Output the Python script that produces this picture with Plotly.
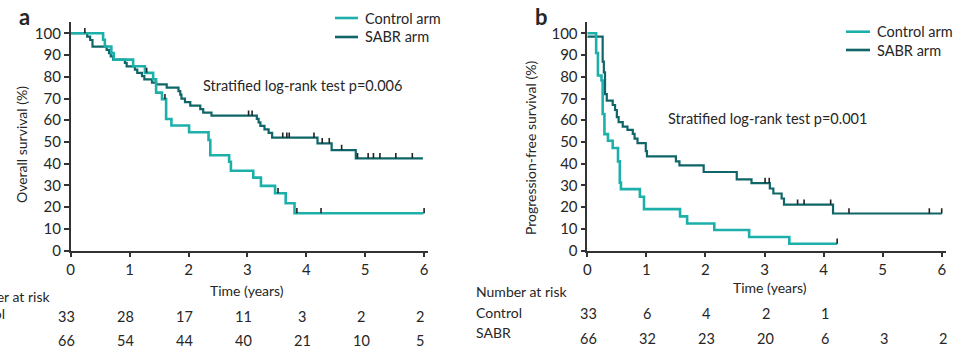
import plotly.graph_objects as go

# ---------------- data ----------------
years = [0, 1, 2, 3, 4, 5, 6]
y_ticks = [0, 10, 20, 30, 40, 50, 60, 70, 80, 90, 100]

# Panel a: overall survival (%)
a_ctrl_t = [0, 0.55, 0.58, 0.69, 0.73, 1.06, 1.26, 1.40, 1.45, 1.55, 1.62, 1.71, 2.01, 2.34, 2.37,
            2.69, 2.72, 3.10, 3.23, 3.47, 3.65, 3.80, 5.99]
a_ctrl_s = [100, 97.0, 93.9, 90.9, 87.9, 84.8, 81.8, 78.8, 72.7, 69.7, 60.6, 57.6, 54.5, 50.9, 43.9,
            40.9, 36.8, 33.6, 29.8, 26.4, 21.8, 17.2, 17.2]
a_ctrl_cens = [1.29, 1.60, 3.52, 3.84, 4.25, 6.0]

a_sabr_t = [0, 0.28, 0.33, 0.37, 0.61, 0.65, 0.68, 0.72, 0.92, 0.95, 1.09, 1.13, 1.21, 1.25, 1.38, 1.45,
            1.63, 1.83, 1.86, 1.88, 1.94, 2.03, 2.20, 2.25, 2.39, 3.16, 3.19, 3.22, 3.29, 3.36, 3.42,
            4.19, 4.43, 4.84, 5.98]
a_sabr_s = [100, 98.5, 96.9, 93.9, 92.4, 90.9, 89.4, 87.9, 86.4, 84.8, 83.3, 81.8, 80.3, 78.8, 77.3, 76.5,
            75.0, 73.4, 71.8, 69.9, 68.3, 66.7, 65.1, 63.5, 62.1, 60.6, 59.0, 57.4, 55.8, 54.2, 52.0,
            49.4, 46.3, 42.5, 42.5]
a_sabr_cens = [0.24, 3.02, 3.08, 3.60, 3.67, 3.71, 4.13, 4.27, 4.39, 4.60, 4.87, 5.05, 5.14, 5.25, 5.52, 5.80]

# Panel b: progression-free survival (%)
b_ctrl_t = [0, 0.15, 0.18, 0.24, 0.26, 0.29, 0.35, 0.43, 0.52, 0.55, 0.57, 0.89, 0.96, 1.57, 1.69,
            2.15, 2.74, 3.42, 4.23]
b_ctrl_s = [100, 90.9, 80.6, 78.3, 62.9, 53.6, 50.6, 47.2, 41.1, 31.3, 28.3, 24.8, 19.1, 15.8, 12.5,
            9.5, 6.3, 3.2, 3.2]
b_ctrl_cens = [4.23]

b_sabr_t = [0, 0.26, 0.28, 0.30, 0.33, 0.43, 0.47, 0.50, 0.53, 0.60, 0.68, 0.77, 0.80, 0.85, 0.99, 1.01,
            1.50, 1.56, 1.97, 2.53, 2.78, 3.09, 3.15, 3.29, 3.33, 4.16, 6.0]
b_sabr_s = [98.5, 87.0, 82.0, 72.0, 69.0, 67.0, 64.7, 61.4, 59.1, 57.1, 55.6, 53.7, 51.5, 49.5, 45.8, 43.4,
            41.1, 39.2, 36.2, 32.8, 31.1, 28.6, 26.3, 24.0, 21.2, 17.1, 17.1]
b_sabr_cens = [3.01, 3.08, 3.56, 3.67, 4.12, 4.43, 5.79, 6.0]

# Number at risk
a_risk_ctrl = [33, 28, 17, 11, 3, 2, 2]
a_risk_sabr = [66, 54, 44, 40, 21, 10, 5]
b_risk_ctrl = [33, 6, 4, 2, 1, None, None]
b_risk_sabr = [66, 32, 23, 20, 6, 3, 2]

series_names = ["Control arm", "SABR arm"]
pvals = ["Stratified log-rank test p=0.006", "Stratified log-rank test p=0.001"]
ylabels = ["Overall survival (%)", "Progression-free survival (%)"]

# ---------------- style ----------------
C_CTRL = "#1db0ab"
C_SABR = "#0f6567"
AX = "#333333"
TXT = "#262626"
FONT = "Lato"
W, H = 965, 353


def px(x):
    return x / W


def py(y):
    return 1 - y / H


def step_value(ts, ss, c):
    v = ss[0]
    for t, s in zip(ts, ss):
        if t <= c:
            v = s
    return v


fig = go.Figure()

panels = [
    ("x", "y", a_ctrl_t, a_ctrl_s, a_ctrl_cens, a_sabr_t, a_sabr_s, a_sabr_cens),
    ("x2", "y2", b_ctrl_t, b_ctrl_s, b_ctrl_cens, b_sabr_t, b_sabr_s, b_sabr_cens),
]
for xa, ya, ct, cs, cc, st, ss, sc in panels:
    fig.add_trace(go.Scatter(x=st, y=ss, mode="lines", line=dict(color=C_SABR, width=2.2, shape="hv"),
                             xaxis=xa, yaxis=ya, showlegend=False, hoverinfo="skip"))
    fig.add_trace(go.Scatter(x=ct, y=cs, mode="lines", line=dict(color=C_CTRL, width=2.6, shape="hv"),
                             xaxis=xa, yaxis=ya, showlegend=False, hoverinfo="skip"))
    for cens, t, s in ((cc, ct, cs), (sc, st, ss)):
        fig.add_trace(go.Scatter(
            x=cens, y=[step_value(t, s, c) for c in cens], mode="markers",
            marker=dict(size=1, color="rgba(0,0,0,0)"),
            error_y=dict(type="constant", value=2.4, valueminus=0, symmetric=False,
                         width=0, thickness=1.6, color="#222222"),
            xaxis=xa, yaxis=ya, showlegend=False, hoverinfo="skip"))

# axis geometry (pixels)
a_x0, a_ppy = 70.7, 58.9
b_x0, b_ppy = 587.3, 59.07
xmax = 6.07
y_bot, y_top = 250.7, 22.4

axis_common = dict(showline=True, linecolor=AX, linewidth=1.5, ticks="outside", ticklen=5,
                   tickwidth=1.5, tickcolor=AX, showgrid=False, zeroline=False, automargin=False,
                   tickfont=dict(family=FONT, size=15, color=TXT))
fig.update_layout(
    template="none",
    width=W, height=H, margin=dict(l=0, r=0, t=0, b=0, pad=0), autosize=False,
    paper_bgcolor="white", plot_bgcolor="white", showlegend=False,
    font=dict(family=FONT, color=TXT),
    xaxis=dict(domain=[px(a_x0), px(a_x0 + xmax * a_ppy)], range=[0, xmax], anchor="y",
               tickvals=years, **axis_common),
    yaxis=dict(domain=[py(y_bot), py(y_top)], range=[0, 105], anchor="x",
               tickvals=y_ticks, **axis_common),
    xaxis2=dict(domain=[px(b_x0), px(b_x0 + xmax * b_ppy)], range=[0, xmax], anchor="y2",
                tickvals=years, **axis_common),
    yaxis2=dict(domain=[py(y_bot), py(y_top)], range=[0, 105], anchor="x2",
                tickvals=y_ticks, **axis_common),
)

ann = []
shapes = []


def text(x, y, s, size=14, xanchor="center", textangle=0, bold=False, xref="paper", xshift=0):
    ann.append(dict(x=x, y=y, xref=xref, yref="paper", text=("<b>%s</b>" % s) if bold else s,
                    showarrow=False, xanchor=xanchor, yanchor="middle", textangle=textangle,
                    xshift=xshift, font=dict(family=FONT, size=size, color=TXT)))


# panel labels
text(px(24), py(17), "a", size=22, bold=True)
text(px(541), py(17), "b", size=22, bold=True)

# y titles
text(px(21), py(145), ylabels[0], size=14, textangle=-90)
text(px(530), py(148), ylabels[1], size=14, textangle=-90)

# x titles
text(px(247), py(290), "Time (years)", size=14)
text(px(770), py(287), "Time (years)", size=14)

# p-values
text(px(201), py(86), pvals[0], size=14.5, xanchor="left")
text(px(665.7), py(118), pvals[1], size=14.5, xanchor="left")

# legends
for (lx0, lx1, ly0, ly1) in ((335, 358, 18, 37), (846, 870, 31.7, 50)):
    for name, col, ly in ((series_names[0], C_CTRL, ly0), (series_names[1], C_SABR, ly1)):
        shapes.append(dict(type="line", xref="paper", yref="paper", x0=px(lx0), x1=px(lx1),
                           y0=py(ly), y1=py(ly), line=dict(color=col, width=2.6)))
        text(px(lx1 + 5), py(ly), name, size=14.5, xanchor="left")

# number at risk tables
for x0, xref, hdr_y, c_lab_y, s_lab_y, c_y, s_y, rc, rs, shift in (
        (a_x0, "x", 296.7, 313, 333, 316, 340, a_risk_ctrl, a_risk_sabr, -4),
        (b_x0, "x2", 291.7, 312, 332, 313, 338, b_risk_ctrl, b_risk_sabr, 1)):
    lab_x = px(x0 - 113.3)
    text(lab_x, py(hdr_y), "Number at risk", size=14, xanchor="left")
    text(lab_x, py(c_lab_y), "Control", size=14, xanchor="left")
    text(lab_x, py(s_lab_y), "SABR", size=14, xanchor="left")
    for yr, v in zip(years, rc):
        if v is not None:
            text(yr, py(c_y), str(v), size=14.5, xref=xref, xshift=shift)
    for yr, v in zip(years, rs):
        if v is not None:
            text(yr, py(s_y), str(v), size=14.5, xref=xref, xshift=shift)

fig.update_layout(annotations=ann, shapes=shapes)
fig.write_html("out.html", config={"displayModeBar": False, "responsive": False},
               post_script="document.body.style.margin='0';document.body.style.overflow='hidden';")
